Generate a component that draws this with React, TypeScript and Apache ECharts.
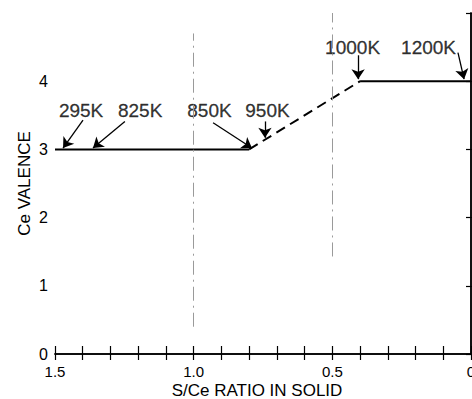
import React, { useEffect, useRef } from "react";
import * as echarts from "echarts";

// Main curve (S/Ce ratio vs Ce valence)
const ratio = [1.5, 0.8, 0.4, 0];
const valence = [3, 3, 4, 4];

// Temperature annotations
const annoLabels = ["295K", "825K", "850K", "950K", "1000K", "1200K"];
const annoX = [1.406, 1.193, 0.943, 0.734, 0.427, 0.153];
const annoY = [3.57, 3.57, 3.57, 3.57, 4.5, 4.5];
const arrowFromX = [1.399, 1.248, 0.93, 0.743, 0.407, 0.047];
const arrowFromY = [3.43, 3.41, 3.39, 3.41, 4.38, 4.42];
const arrowToX = [1.471, 1.363, 0.79, 0.743, 0.407, 0.025];
const arrowToY = [3.02, 3.02, 3.02, 3.17, 4.03, 4.03];
const arrowCurve = [0, 0, -0.3, 0, 0, 0.3];

// Faint vertical reference traces
const refX = [1.0, 0.5];
const refYFrom = [0.4, 1.43];
const refYTo = [4.7, 5.0];

const xTickLabels = ["0", "0.5", "1.0", "1.5"];
const yTickLabels = ["0", "1", "2", "3", "4"];

const FONT = "'Liberation Sans', Arial, sans-serif";

export default function App() {
  const ref = useRef<HTMLDivElement>(null);
  useEffect(() => {
    if (!ref.current) return;
    const chart = echarts.init(ref.current, null, { renderer: "svg" });
    const black = "#000";
    const axisLine = { show: true, lineStyle: { color: black, width: 1.5 } };
    const xFmt = (v: number) => {
      const k = Math.round(v * 2);
      if (Math.abs(v * 2 - k) > 1e-6) return "";
      return xTickLabels[k] ?? "";
    };
    const yFmt = (v: number) => {
      const k = Math.round(v);
      return yTickLabels[k] ?? "";
    };
    const seg = (i: number, j: number) => [
      [ratio[i], valence[i]],
      [ratio[j], valence[j]],
    ];
    const option: any = {
      animation: false,
      grid: { left: 55, right: 1, top: 13, bottom: 45, containLabel: false, outerBoundsMode: "none" },
      xAxis: [
        {
          type: "value",
          inverse: true,
          min: 0,
          max: 1.5,
          interval: 0.1,
          position: "bottom",
          axisLine,
          axisTick: { inside: true, length: 8, lineStyle: { color: black, width: 1.2 } },
          axisLabel: { formatter: xFmt, fontSize: 15, color: black, margin: 10, fontFamily: FONT },
          splitLine: { show: false },
          name: "S/Ce RATIO IN SOLID",
          nameLocation: "middle",
          nameGap: 28,
          nameMoveOverlap: false,
          nameTextStyle: { fontSize: 17, color: black, fontFamily: FONT, padding: [0, 12, 0, 0] },
        },
        {
          type: "value",
          inverse: true,
          min: 0,
          max: 1.5,
          interval: 0.1,
          position: "top",
          axisLine,
          axisTick: { inside: true, length: 6, lineStyle: { color: black, width: 1.2 } },
          axisLabel: { show: false },
          splitLine: { show: false },
        },
      ],
      yAxis: [
        {
          type: "value",
          min: 0,
          max: 5,
          interval: 1,
          position: "left",
          axisLine,
          axisTick: { inside: true, length: 5, lineStyle: { color: black, width: 1.2 } },
          axisLabel: { formatter: yFmt, fontSize: 16, color: black, margin: 7, fontFamily: FONT },
          splitLine: { show: false },
          name: "Ce VALENCE",
          nameLocation: "middle",
          nameGap: 22,
          nameMoveOverlap: false,
          nameTextStyle: { fontSize: 17, color: black, fontFamily: FONT },
        },
        {
          type: "value",
          min: 0,
          max: 5,
          interval: 1,
          position: "right",
          axisLine,
          axisTick: { inside: true, length: 5, lineStyle: { color: black, width: 1.2 } },
          axisLabel: { show: false },
          splitLine: { show: false },
        },
      ],
      series: [
        {
          type: "line",
          data: seg(0, 1),
          symbol: "none",
          lineStyle: { color: black, width: 2 },
          markLine: {
            silent: true,
            symbol: ["none", "none"],
            label: { show: false },
            lineStyle: { color: "#9a9a9a", width: 1, type: [14, 5, 2, 5] },
            data: refX.map((x, i) => [
              { coord: [x, refYFrom[i]] },
              { coord: [x, refYTo[i]] },
            ]),
          },
        },
        {
          type: "line",
          data: seg(1, 2),
          symbol: "none",
          lineStyle: { color: black, width: 2, type: [10, 6] },
        },
        {
          type: "line",
          data: seg(2, 3),
          symbol: "none",
          lineStyle: { color: black, width: 2 },
        },
        {
          type: "scatter",
          data: annoLabels.map((n, i) => [annoX[i], annoY[i], n]),
          symbolSize: 1,
          itemStyle: { color: "transparent" },
          label: {
            show: true,
            position: "inside",
            formatter: (p: any) => p.data[2],
            fontSize: 19,
            color: black,
            textBorderColor: black,
            textBorderWidth: 0.3,
            fontFamily: FONT,
          },
          markLine: {
            silent: true,
            symbol: ["none", "arrow"],
            symbolSize: 10,
            label: { show: false },
            lineStyle: { color: black, width: 1.3, type: "solid" },
            data: annoLabels.map((_, i) => [
              {
                coord: [arrowFromX[i], arrowFromY[i]],
                lineStyle: { curveness: arrowCurve[i] },
              },
              { coord: [arrowToX[i], arrowToY[i]] },
            ]),
          },
        },
      ],
    };
    chart.setOption(option);
    return () => chart.dispose();
  }, []);
  return (
    <div
      ref={ref}
      style={{ position: "fixed", left: 0, top: 0, width: 472, height: 399, background: "#fff" }}
    />
  );
}
